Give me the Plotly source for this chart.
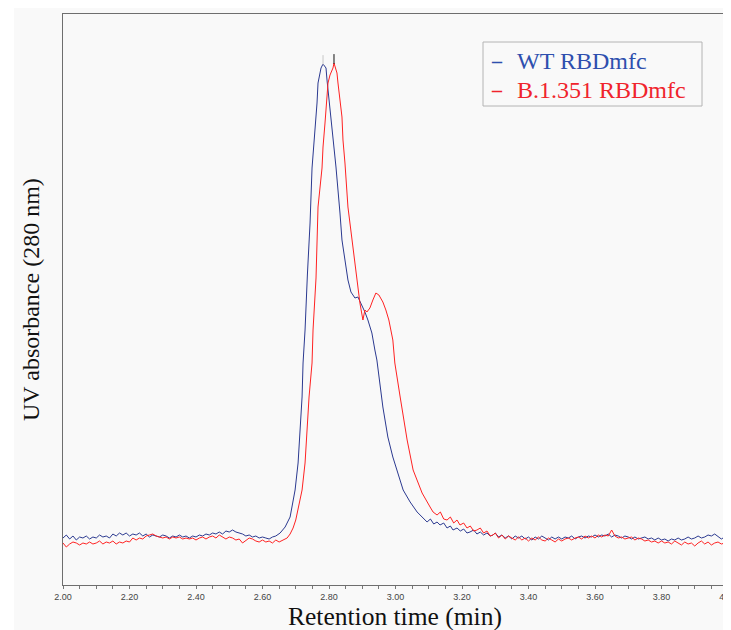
import plotly.graph_objects as go

# ---------------- data ----------------
series_names = ["WT RBDmfc", "B.1.351 RBDmfc"]

wt_time = [2.00, 2.01, 2.02, 2.03, 2.04, 2.05, 2.06, 2.07, 2.08, 2.09,
           2.10, 2.11, 2.12, 2.13, 2.14, 2.15, 2.16, 2.17, 2.18, 2.19,
           2.20, 2.21, 2.22, 2.23, 2.24, 2.25, 2.26, 2.27, 2.28, 2.29,
           2.30, 2.31, 2.32, 2.33, 2.34, 2.35, 2.36, 2.37, 2.38, 2.39,
           2.40, 2.41, 2.42, 2.43, 2.44, 2.45, 2.46, 2.47, 2.48, 2.49,
           2.50, 2.51, 2.52, 2.53, 2.54, 2.55, 2.56, 2.57, 2.58, 2.59,
           2.60, 2.61, 2.62, 2.63, 2.64,
           2.653, 2.668, 2.683, 2.698, 2.707, 2.713, 2.719, 2.722, 2.728, 2.735,
           2.743, 2.749, 2.758, 2.764, 2.767, 2.776, 2.782, 2.791, 2.794, 2.800,
           2.809, 2.815, 2.821, 2.833, 2.839, 2.848, 2.857, 2.866, 2.878, 2.887,
           2.899, 2.908, 2.917, 2.929, 2.938, 2.944, 2.962, 2.977, 2.992, 3.008,
           3.023, 3.044, 3.065, 3.080, 3.095,
           3.105, 3.115, 3.125, 3.134, 3.145, 3.155, 3.165, 3.173, 3.185, 3.195,
           3.205, 3.215, 3.224, 3.235, 3.245, 3.255, 3.265, 3.275, 3.285, 3.293,
           3.30, 3.31, 3.32, 3.33, 3.34, 3.35, 3.36, 3.37, 3.38, 3.39,
           3.40, 3.41, 3.42, 3.43, 3.44, 3.45, 3.46, 3.47, 3.48, 3.49,
           3.50, 3.51, 3.52, 3.53, 3.54, 3.55, 3.56, 3.57, 3.58, 3.59,
           3.60, 3.61, 3.62, 3.63, 3.64, 3.65, 3.66, 3.67, 3.68, 3.69,
           3.70, 3.71, 3.72, 3.73, 3.74, 3.75, 3.76, 3.77, 3.78, 3.79,
           3.80, 3.81, 3.82, 3.83, 3.84, 3.85, 3.86, 3.87, 3.88, 3.89,
           3.90, 3.91, 3.92, 3.93, 3.94, 3.95, 3.96, 3.97, 3.98, 3.99, 4.00]
wt_abs = [0.0, 0.3, -0.1, 0.2, -0.2, 0.1, 0.0, 0.2, -0.1, 0.1,
          0.0, 0.3, 0.1, 0.2, 0.0, 0.4, 0.2, 0.5, 0.3, 0.5,
          0.2, 0.4, 0.3, 0.5, 0.2, 0.4, 0.1, 0.3, 0.2, 0.1,
          0.3, 0.2, 0.0, 0.2, 0.1, 0.3, 0.1, 0.2, 0.0, 0.2,
          0.1, 0.3, 0.2, 0.4, 0.3, 0.5, 0.4, 0.6, 0.4, 0.7,
          0.6, 0.8, 0.6, 0.5, 0.4, 0.2, 0.3, 0.1, 0.2, 0.0,
          0.1, 0.0, -0.1, 0.1, 0.2,
          0.5, 1.1, 2.1, 4.8, 7.5, 10.8, 14.1, 17.5, 20.8, 26.3,
          31.5, 37.0, 40.5, 43.5, 45.5, 47.0, 47.4, 47.0, 45.8, 43.8,
          41.5, 39.1, 37.1, 32.5, 29.8, 27.8, 25.8, 24.6, 24.0, 24.1,
          23.3, 22.6, 21.8, 20.5, 18.8, 17.8, 13.1, 10.1, 8.1, 6.5,
          4.8, 3.6, 2.6, 2.1, 1.6,
          1.9, 1.4, 1.6, 1.3, 1.5, 1.0, 1.2, 0.8, 1.0, 0.7,
          0.9, 0.5, 0.6, 0.8, 0.4, 0.6, 0.3, 0.5, 0.2, 0.3,
          0.5, 0.1, 0.3, 0.0, 0.2, -0.1, 0.2, 0.0, 0.2, -0.1,
          0.1, -0.2, 0.1, -0.1, 0.2, 0.0, -0.2, 0.1, -0.1, 0.1,
          -0.1, 0.1, 0.0, 0.2, -0.1, 0.1, 0.2, 0.0, 0.2, 0.1,
          0.3, 0.1, 0.3, 0.2, 0.4, 0.1, 0.3, 0.2, 0.0, 0.2,
          0.1, -0.1, 0.1, -0.1, 0.0, 0.1, -0.1, 0.0, -0.2, 0.0,
          -0.2, -0.1, -0.3, -0.1, -0.2, 0.0, -0.2, -0.1, 0.1, -0.1,
          0.0, 0.2, 0.0, 0.1, 0.3, 0.2, 0.4, 0.1, -0.1, 0.1, 0.0]

b1351_time = [2.00, 2.01, 2.02, 2.03, 2.04, 2.05, 2.06, 2.07, 2.08, 2.09,
              2.10, 2.11, 2.12, 2.13, 2.14, 2.15, 2.16, 2.17, 2.18, 2.19,
              2.20, 2.21, 2.22, 2.23, 2.24, 2.25, 2.26, 2.27, 2.28, 2.29,
              2.30, 2.31, 2.32, 2.33, 2.34, 2.35, 2.36, 2.37, 2.38, 2.39,
              2.40, 2.41, 2.42, 2.43, 2.44, 2.45, 2.46, 2.47, 2.48, 2.49,
              2.50, 2.51, 2.52, 2.53, 2.54, 2.55, 2.56, 2.57, 2.58, 2.59,
              2.60, 2.61, 2.62, 2.63, 2.64, 2.65, 2.66,
              2.674, 2.683, 2.692, 2.700, 2.707, 2.719, 2.728, 2.734, 2.740, 2.749,
              2.752, 2.761, 2.767, 2.779, 2.782, 2.788, 2.794, 2.797, 2.803, 2.812,
              2.815, 2.824, 2.827, 2.833, 2.839, 2.842, 2.848, 2.857, 2.869, 2.878,
              2.884, 2.893, 2.902, 2.908, 2.914, 2.923, 2.932, 2.941, 2.950, 2.962,
              2.971, 2.980, 2.992, 2.998, 3.014, 3.035, 3.053, 3.080, 3.104,
              3.113, 3.125, 3.135, 3.145, 3.155, 3.165, 3.175, 3.185, 3.194, 3.205,
              3.215, 3.225, 3.235, 3.245, 3.255, 3.265, 3.275, 3.285, 3.293,
              3.30, 3.31, 3.32, 3.33, 3.34, 3.35, 3.36, 3.37, 3.38, 3.39,
              3.40, 3.41, 3.42, 3.43, 3.44, 3.45, 3.46, 3.47, 3.48, 3.49,
              3.50, 3.51, 3.52, 3.53, 3.54, 3.55, 3.56, 3.57, 3.58, 3.59,
              3.60, 3.61, 3.62, 3.63, 3.64, 3.65, 3.66, 3.67, 3.68, 3.69,
              3.70, 3.71, 3.72, 3.73, 3.74, 3.75, 3.76, 3.77, 3.78, 3.79,
              3.80, 3.81, 3.82, 3.83, 3.84, 3.85, 3.86, 3.87, 3.88, 3.89,
              3.90, 3.91, 3.92, 3.93, 3.94, 3.95, 3.96, 3.97, 3.98, 3.99, 4.00]
b1351_abs = [-0.5, -0.9, -0.6, -0.4, -0.5, -0.7, -0.5, -0.6, -0.4, -0.6,
             -0.5, -0.3, -0.6, -0.4, -0.5, -0.3, -0.6, -0.4, -0.5, -0.3,
             -0.4, 0.0, -0.2, 0.0, -0.1, 0.2, 0.3, 0.4, 0.2, 0.1,
             0.0, 0.1, -0.1, 0.1, 0.0, 0.1, -0.1, 0.0, -0.1, 0.0,
             -0.2, 0.0, 0.1, -0.1, 0.1, 0.2, 0.0, 0.3, 0.1, -0.1,
             0.1, 0.0, -0.2, -0.1, -0.5, -0.2, 0.0, -0.1, -0.3, -0.4,
             -0.2, -0.4, -0.3, -0.5, -0.2, -0.4, -0.2,
             0.0, 0.4, 1.0, 1.8, 2.8, 4.8, 7.5, 10.8, 14.1, 17.5,
             20.8, 26.0, 33.1, 37.0, 39.1, 41.5, 43.8, 45.5, 46.3, 47.0,
             47.5, 46.5, 45.5, 43.8, 42.1, 39.8, 37.5, 33.1, 29.8, 27.1,
             25.5, 23.5, 21.8, 22.8, 22.6, 23.0, 23.8, 24.5, 24.3, 23.6,
             22.8, 21.8, 19.8, 17.5, 14.1, 9.8, 6.8, 4.5, 3.1,
             2.6, 2.3, 2.6, 1.9, 1.8, 2.1, 1.5, 1.8, 1.3, 1.5,
             1.0, 1.2, 0.7, 0.8, 1.0, 0.5, 0.7, 0.2, 0.3,
             0.5, 0.0, 0.3, -0.1, 0.2, 0.0, -0.2, 0.1, -0.2, 0.0,
             -0.3, 0.0, -0.2, 0.1, -0.2, -0.3, 0.0, -0.2, -0.4, -0.1,
             -0.3, -0.1, 0.0, -0.2, 0.0, 0.1, -0.1, 0.2, 0.0, 0.2,
             0.0, 0.3, 0.1, 0.3, 0.2, 0.8, 0.2, 0.0, 0.1, -0.1,
             0.0, 0.1, -0.2, 0.0, -0.1, -0.3, -0.2, -0.4, -0.3, -0.5,
             -0.3, -0.5, -0.4, -0.6, -0.3, -0.5, -0.7, -0.4, -0.6, -0.5,
             -0.8, -0.5, -0.3, -0.6, -0.4, -0.7, -0.5, -0.4, -0.6, -0.5, -0.6]

x_tick_values = [2.0, 2.2, 2.4, 2.6, 2.8, 3.0, 3.2, 3.4, 3.6, 3.8, 4.0]
x_tick_labels = ["2.00", "2.20", "2.40", "2.60", "2.80", "3.00",
                 "3.20", "3.40", "3.60", "3.80", "4.00"]

# ---------------- styling ----------------
line_colors = ["#2b3990", "#ff2222"]
legend_colors = ["#2e4fae", "#f0242c"]
peak_tick_colors = ["#c8c8c8", "#111111"]
serif = "Liberation Serif, Times New Roman, serif"
bg = "#f9f9f9"

OFF = 8                      # page body margin offset
W, H = 731 - OFF, 630 - OFF  # figure size so it fills the window
L, R, T, B = 63 - OFF, 3, 14 - OFF, 45
pw, ph = W - L - R, H - T - B


def px(x):  # screen x -> paper
    return (x - OFF - L) / pw


def py(y):  # screen y -> paper
    return (H - B - (y - OFF)) / ph


fig = go.Figure()
all_series = [(wt_time, wt_abs), (b1351_time, b1351_abs)]
for (tt, aa), name, col in zip(all_series, series_names, line_colors):
    fig.add_trace(go.Scatter(x=tt, y=aa, mode="lines", name=name,
                             line=dict(color=col, width=1), showlegend=False))

# small apex markers above each peak (derived from data)
for (tt, aa), col in zip(all_series, peak_tick_colors):
    i = max(range(len(aa)), key=lambda k: aa[k])
    fig.add_trace(go.Scatter(x=[tt[i]], y=[aa[i] + 0.4], mode="markers",
                             marker=dict(symbol="line-ns", size=7,
                                         line=dict(color=col, width=1)),
                             showlegend=False, hoverinfo="skip"))

shapes = [
    dict(type="rect", xref="paper", yref="paper", layer="below",
         x0=px(14), x1=px(745), y0=py(645), y1=py(7),
         fillcolor=bg, line=dict(width=0)),
    dict(type="rect", xref="paper", yref="paper",
         x0=px(483), x1=px(702), y0=py(106), y1=py(42),
         fillcolor="rgba(0,0,0,0)", line=dict(color="#b4b4b4", width=1)),
]

annotations = [
    dict(text="Retention time (min)", xref="paper", yref="paper",
         x=px(395), y=py(616), xanchor="center", yanchor="middle",
         showarrow=False, font=dict(family=serif, size=25.5, color="#111")),
    dict(text="UV absorbance (280 nm)", xref="paper", yref="paper",
         x=px(31), y=py(300), xanchor="center", yanchor="middle",
         textangle=-90, showarrow=False,
         font=dict(family=serif, size=24, color="#111")),
]
legend_rows_y = [61, 90]
for name, col, yy in zip(series_names, legend_colors, legend_rows_y):
    annotations.append(dict(text="<b>–</b>", xref="paper", yref="paper",
                            x=px(489), y=py(yy), xanchor="left", yanchor="middle",
                            showarrow=False, font=dict(family=serif, size=20, color=col)))
    annotations.append(dict(text=name, xref="paper", yref="paper",
                            x=px(515), y=py(yy), xanchor="left", yanchor="middle",
                            showarrow=False, font=dict(family=serif, size=24, color=col)))

fig.update_layout(
    width=W, height=H, autosize=False,
    margin=dict(l=L, r=R, t=T, b=B, pad=0),
    paper_bgcolor="white", plot_bgcolor=bg,
    showlegend=False,
    shapes=shapes, annotations=annotations,
    xaxis=dict(range=[2.0, 4.0], tickmode="array", tickvals=x_tick_values,
               ticktext=x_tick_labels, ticks="outside", ticklen=3, tickwidth=1,
               tickcolor="#777", showline=True, linecolor="#6e6e6e", linewidth=1,
               mirror=True, showgrid=False, zeroline=False, automargin=False,
               ticklabeloverflow="allow",
               tickfont=dict(family="Liberation Sans, Arial, sans-serif", size=9, color="#444"),
               minor=dict(dtick=0.05, tick0=2.0, ticks="outside", ticklen=3,
                          tickcolor="#777", showgrid=False)),
    yaxis=dict(range=[-4.7, 52.4], showticklabels=False, ticks="",
               showline=True, linecolor="#6e6e6e", linewidth=1, mirror=True,
               showgrid=False, zeroline=False, automargin=False),
)

fig.write_html("out.html")
